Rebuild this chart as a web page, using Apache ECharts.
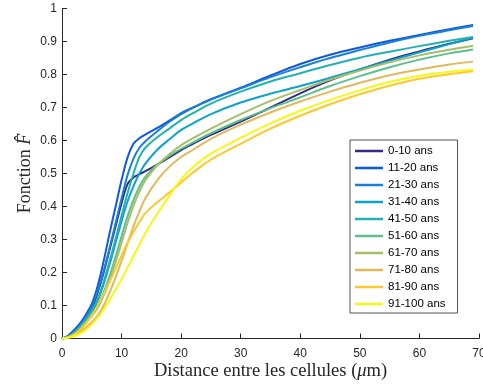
<!DOCTYPE html>
<html><head><meta charset="utf-8">
<script src="https://cdn.jsdelivr.net/npm/echarts@6/dist/echarts.min.js"></script>
<style>html,body{margin:0;padding:0;background:#fff}#c{width:483px;height:385px}</style>
</head><body><div id="c"></div>
<script>
const xs = [0,1,2,3,4,5,6,7,8,9,10,11,12,13,14,16,18,20,22,25,30,35,40,45,50,55,60,65,69];
const names = ['0-10 ans','11-20 ans','21-30 ans','31-40 ans','41-50 ans','51-60 ans','61-70 ans','71-80 ans','81-90 ans','91-100 ans'];
const colors = ['#352a87','#1058dc','#1a7fd8','#0ba2cc','#21b1b3','#5cc08c','#a6be6b','#e3b85a','#fcc830','#f7f714'];
const s0_10   = [0,0.005,0.018,0.035,0.058,0.09,0.14,0.2,0.27,0.34,0.41,0.468,0.488,0.498,0.507,0.527,0.549,0.571,0.59,0.617,0.657,0.7,0.743,0.782,0.815,0.845,0.87,0.893,0.91];
const s11_20  = [0,0.008,0.025,0.045,0.072,0.105,0.16,0.235,0.32,0.40,0.48,0.548,0.59,0.607,0.618,0.638,0.66,0.683,0.7,0.725,0.76,0.797,0.832,0.86,0.882,0.902,0.92,0.937,0.95];
const s21_30  = [0,0.006,0.02,0.04,0.065,0.097,0.145,0.205,0.275,0.35,0.425,0.495,0.545,0.578,0.598,0.628,0.656,0.68,0.699,0.724,0.758,0.792,0.822,0.85,0.874,0.897,0.917,0.934,0.947];
const s31_40  = [0,0.005,0.016,0.033,0.055,0.08,0.115,0.165,0.225,0.29,0.355,0.415,0.462,0.5,0.53,0.572,0.603,0.632,0.652,0.68,0.715,0.742,0.765,0.79,0.816,0.842,0.867,0.892,0.912];
const s41_50  = [0,0.005,0.017,0.035,0.058,0.085,0.12,0.172,0.235,0.302,0.372,0.44,0.5,0.55,0.578,0.61,0.636,0.662,0.683,0.712,0.748,0.779,0.804,0.829,0.851,0.869,0.886,0.902,0.914];
const s51_60  = [0,0.004,0.014,0.03,0.05,0.073,0.1,0.14,0.19,0.248,0.31,0.37,0.42,0.46,0.49,0.527,0.553,0.575,0.594,0.622,0.662,0.698,0.731,0.765,0.795,0.822,0.845,0.864,0.876];
const s61_70  = [0,0.004,0.013,0.028,0.047,0.068,0.093,0.13,0.178,0.232,0.29,0.35,0.402,0.445,0.48,0.525,0.558,0.586,0.607,0.636,0.68,0.72,0.753,0.785,0.812,0.837,0.858,0.875,0.887];
const s71_80  = [0,0.003,0.01,0.02,0.033,0.05,0.07,0.1,0.14,0.185,0.235,0.288,0.34,0.385,0.425,0.48,0.52,0.55,0.572,0.605,0.648,0.685,0.718,0.748,0.775,0.798,0.815,0.83,0.839];
const s81_90  = [0,0.004,0.012,0.025,0.045,0.07,0.1,0.135,0.172,0.212,0.252,0.29,0.323,0.353,0.38,0.413,0.442,0.473,0.503,0.542,0.59,0.636,0.675,0.71,0.74,0.766,0.787,0.801,0.81];
const s91_100 = [0,0.002,0.007,0.015,0.027,0.043,0.063,0.088,0.117,0.148,0.18,0.215,0.25,0.285,0.32,0.378,0.432,0.482,0.52,0.56,0.608,0.652,0.69,0.723,0.752,0.777,0.796,0.808,0.815];
const allSeries = [s0_10,s11_20,s21_30,s31_40,s41_50,s51_60,s61_70,s71_80,s81_90,s91_100];

const axisCol = '#262626';
const chart = echarts.init(document.getElementById('c'), null, {renderer:'canvas'});
chart.setOption({
  animation:false,
  backgroundColor:'#fff',
  grid:{left:62,right:4,top:8.5,bottom:46.5,containLabel:false,outerBoundsMode:'none'},
  legend:{
    orient:'vertical', left:350, top:140,
    data:names.map(n=>({name:n, icon:'rect'})), itemWidth:28, itemHeight:2.5, itemGap:5, itemTextGap:7,
    padding:[5,12,3,5],
    borderColor:'#262626', borderWidth:0.8, backgroundColor:'#fff',
    textStyle:{fontFamily:'Liberation Sans', fontSize:11.5, color:'#000'}
  },
  xAxis:{
    type:'value', min:0, max:70, interval:10,
    name:'Distance entre les cellules ({i|μ}m)', nameLocation:'middle', nameGap:23, nameMoveOverlap:false,
    nameTextStyle:{fontFamily:'Liberation Serif', fontSize:18.5, color:axisCol,
      rich:{i:{fontFamily:'Liberation Serif', fontStyle:'italic', fontSize:18.5, color:axisCol}}},
    axisLine:{lineStyle:{color:axisCol,width:1}},
    axisTick:{inside:true,length:5,lineStyle:{color:axisCol}},
    axisLabel:{fontFamily:'Liberation Sans',fontSize:12,color:axisCol,margin:9},
    splitLine:{show:false}
  },
  yAxis:{
    type:'value', min:0, max:1, interval:0.1,
    name:'Fonction {i|F\u0302}', nameLocation:'middle', nameGap:28, nameMoveOverlap:false,
    nameTextStyle:{fontFamily:'Liberation Serif', fontSize:18, color:axisCol,
      rich:{i:{fontFamily:'Liberation Serif', fontStyle:'italic', fontSize:18, color:axisCol}}},
    axisLine:{show:true,lineStyle:{color:axisCol,width:1}},
    axisTick:{show:true,inside:true,length:5,lineStyle:{color:axisCol}},
    axisLabel:{fontFamily:'Liberation Sans',fontSize:12,color:axisCol,margin:5},
    splitLine:{show:false}
  },
  series: allSeries.map((s,i)=>({
    name:names[i], type:'line', symbol:'none', smooth:0.35,
    color:colors[i], lineStyle:{width:2, color:colors[i]},
    data: xs.map((x,j)=>[x,s[j]])
  }))
});
</script></body></html>
